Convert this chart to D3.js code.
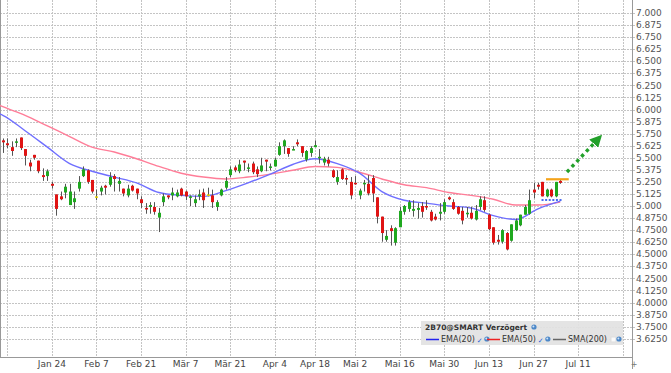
<!DOCTYPE html>
<html>
<head>
<meta charset="utf-8">
<script src="https://cdn.jsdelivr.net/npm/d3@7"></script>
<style>
  body { margin: 0; background: #fff; }
  svg { display: block; font-family: "DejaVu Sans", Verdana, sans-serif; }
</style>
</head>
<body>
<div id="chart-area"></div>
<script>
// trading-day index 0 = Jan 7 (2022)
const open  = [5.68,5.65,5.61,5.66,5.71,5.59,5.45,5.53,5.47,5.32, 5.31,5.23,5.12,5.10,5.14,5.01,5.04,5.18,5.31,5.37,
               5.27,5.10,5.15,5.21,5.22,5.31,5.23,5.18,5.11,5.21, 5.18,5.07,4.98,4.99,4.99,4.88,5.04,5.11,5.11,5.10,
               5.18,5.15,5.09,5.03,5.10,5.14,5.12,5.11,4.99,5.11, 5.19,5.32,5.40,5.36,5.47,5.39,5.44,5.38,5.36,5.48,
               5.40,5.41,5.53,5.62,5.60,5.58,5.66,5.62,5.48,5.55, 5.61,5.50,5.45,5.48,5.37,5.25,5.38,5.29,5.25,5.24,
               5.11,5.23,5.23,5.29,5.09,4.89,4.65,4.77,4.62,4.78, 4.94,4.97,4.95,4.96,5.00,5.00,4.94,4.89,4.92,4.94,
               5.09,5.04,4.99,4.95,4.92,4.93,4.86,4.99,5.06,4.91, 4.78,4.65,4.63,4.72,4.64,4.75,4.80,4.91,4.92,5.17,
               5.22,5.25,5.10,5.17,5.10,5.26]
const high  = [5.70,5.70,5.67,5.70,5.71,5.59,5.48,5.53,5.47,5.39, 5.38,5.25,5.12,5.15,5.23,5.23,5.15,5.31,5.41,5.38,
               5.27,5.17,5.21,5.22,5.35,5.33,5.30,5.18,5.22,5.22, 5.18,5.10,5.03,5.04,5.04,4.98,5.13,5.11,5.19,5.17,
               5.19,5.16,5.11,5.11,5.17,5.18,5.19,5.17,5.06,5.18, 5.30,5.41,5.42,5.48,5.47,5.44,5.46,5.41,5.50,5.48,
               5.44,5.50,5.66,5.69,5.60,5.62,5.69,5.62,5.58,5.62, 5.68,5.59,5.51,5.51,5.38,5.37,5.39,5.32,5.30,5.31,
               5.18,5.27,5.32,5.32,5.09,4.89,4.75,4.80,4.78,4.99, 5.01,5.06,5.06,5.03,5.04,5.06,4.96,4.92,5.03,5.07,
               5.10,5.07,5.00,4.99,4.99,4.99,5.01,5.10,5.10,4.92, 4.78,4.70,4.76,4.73,4.81,4.87,4.91,5.01,5.17,5.24,
               5.24,5.25,5.18,5.18,5.25,5.27]
const low   = [5.55,5.60,5.52,5.61,5.58,5.42,5.36,5.48,5.34,5.26, 5.26,5.18,4.90,5.06,5.08,5.01,4.97,5.15,5.30,5.23,
               5.13,5.06,5.11,5.12,5.20,5.15,5.15,5.10,5.09,5.15, 5.07,4.98,4.92,4.92,4.91,4.73,5.00,5.07,5.06,5.09,
               5.10,5.06,5.00,4.99,5.06,4.98,5.10,4.98,4.95,5.10, 5.17,5.30,5.35,5.34,5.37,5.35,5.33,5.30,5.35,5.36,
               5.37,5.41,5.52,5.54,5.51,5.58,5.62,5.51,5.46,5.51, 5.61,5.44,5.42,5.41,5.29,5.22,5.27,5.22,5.07,5.22,
               5.07,5.15,5.11,5.04,4.82,4.63,4.63,4.59,4.59,4.78, 4.91,4.94,4.89,4.87,4.88,4.96,4.84,4.85,4.85,4.92,
               5.06,4.96,4.91,4.81,4.88,4.86,4.85,4.96,4.94,4.75, 4.60,4.60,4.61,4.54,4.63,4.74,4.79,4.91,4.91,5.08,
               5.17,5.10,5.09,5.09,5.09,5.23]
const close = [5.66,5.63,5.57,5.67,5.60,5.52,5.41,5.50,5.36,5.30, 5.36,5.21,4.97,5.07,5.20,5.15,5.08,5.25,5.38,5.25,
               5.15,5.10,5.19,5.19,5.30,5.28,5.26,5.13,5.18,5.16, 5.13,5.03,4.97,5.01,4.94,4.93,5.10,5.09,5.14,5.14,
               5.11,5.10,5.10,5.07,5.12,5.06,5.12,5.04,5.04,5.17, 5.26,5.38,5.37,5.43,5.45,5.40,5.35,5.33,5.42,5.46,
               5.41,5.48,5.62,5.68,5.54,5.59,5.64,5.55,5.57,5.60, 5.63,5.51,5.49,5.44,5.30,5.30,5.28,5.28,5.11,5.23,
               5.16,5.24,5.13,5.13,4.89,4.72,4.69,4.74,4.77,4.95, 5.00,5.04,4.97,4.98,4.94,4.99,4.85,4.86,4.94,5.04,
               5.07,4.97,4.92,4.85,4.93,4.87,4.95,5.07,4.96,4.76, 4.62,4.63,4.75,4.55,4.81,4.85,4.91,4.99,5.06,5.14,
               5.20,5.10,5.17,5.10,5.25,5.24]

// moving averages every 5 trading days
const emaIndex = [-1,0,5,10,15,20,25,30,35,40,45,50,55,60,65,70,75,80,85,90,95,100,105,110,115,120,125]
const ema20 = [5.96,5.94,5.78,5.61,5.44,5.36,5.30,5.24,5.14,5.11,5.10,5.16,5.24,5.33,5.43,5.49,5.44,5.34,5.15,5.06,
               5.03,5.00,4.98,4.90,4.86,4.97,5.05]
const ema50 = [6.05,6.03,5.94,5.83,5.72,5.61,5.56,5.49,5.41,5.34,5.30,5.28,5.30,5.33,5.37,5.41,5.40,5.35,5.28,5.22,
               5.19,5.14,5.11,5.07,5.01,5.01,5.04]

const xTickIndex  = [1, 11, 21, 31, 41, 51, 61, 70, 79, 89, 99, 109, 119, 129, 139]
const xTickLabels = ["", "Jan 24", "Feb 7", "Feb 21", "Mär 7", "Mär 21", "Apr 4", "Apr 18",
                     "Mai 2", "Mai 16", "Mai 30", "Jun 13", "Jun 27", "Jul 11", ""]
const yTickLabels = ["7.000","6.875","6.750","6.625","6.500","6.375","6.250","6.125","6.000","5.875",
                     "5.750","5.625","5.500","5.375","5.250","5.125","5.000","4.8750","4.7500","4.6250",
                     "4.5000","4.3750","4.2500","4.1250","4.0000","3.8750","3.7500","3.6250"]

// drawn annotations, in [trading-day index, price]
const resistance = [[121.8, 5.277], [126.9, 5.277]]
const support = [[120.8, 5.062], [125.3, 5.062]]
const trendArrow = [[126.5, 5.352], [134.1, 5.725]]

const W = 671, H = 373
const PLOT = { LEFT: 0, RIGHT: 632, TOP: 0, BOTTOM: 357 }

const svg = d3.select("#chart-area").append("svg")
  .attr("width", W)
  .attr("height", H)

svg.append("rect").attr("width", W).attr("height", H).attr("fill", "#fff")

const x = d3.scaleLinear().domain([0, 139]).range([2.8, 622.7])
const y = d3.scaleLinear().domain([3.625, 7]).range([338.7, 13])

svg.append("clipPath").attr("id", "plot-clip")
  .append("rect")
  .attr("x", PLOT.LEFT).attr("y", PLOT.TOP)
  .attr("width", PLOT.RIGHT - PLOT.LEFT).attr("height", PLOT.BOTTOM - PLOT.TOP)

// grid
const yTickValues = yTickLabels.map(Number)
svg.append("g")
  .selectAll("line")
  .data(yTickValues)
  .enter().append("line")
    .attr("x1", PLOT.LEFT).attr("x2", PLOT.RIGHT + 3)
    .attr("y1", d => Math.round(y(d)) + 0.5)
    .attr("y2", d => Math.round(y(d)) + 0.5)
    .attr("stroke", "#c4c4c4")
    .attr("stroke-dasharray", "2,1")

svg.append("g")
  .selectAll("line")
  .data(xTickIndex)
  .enter().append("line")
    .attr("x1", d => Math.round(x(d)) + 0.5)
    .attr("x2", d => Math.round(x(d)) + 0.5)
    .attr("y1", PLOT.TOP).attr("y2", PLOT.BOTTOM)
    .attr("stroke", "#c4c4c4")
    .attr("stroke-dasharray", "2,1")

// axes frame
svg.append("line").attr("x1", 0.5).attr("x2", 0.5).attr("y1", 0).attr("y2", PLOT.BOTTOM)
  .attr("stroke", "#999")
svg.append("line").attr("x1", 0).attr("x2", PLOT.RIGHT).attr("y1", PLOT.BOTTOM + 0.5).attr("y2", PLOT.BOTTOM + 0.5)
  .attr("stroke", "#999")
svg.append("line").attr("x1", PLOT.RIGHT + 0.5).attr("x2", PLOT.RIGHT + 0.5).attr("y1", 0).attr("y2", 369)
  .attr("stroke", "#999")

// y labels
svg.append("g")
  .selectAll("text")
  .data(yTickLabels)
  .enter().append("text")
    .attr("x", 636)
    .attr("y", d => y(Number(d)))
    .attr("dy", "0.35em")
    .attr("font-size", "9px")
    .attr("fill", "#555")
    .text(d => d)

// x labels
svg.append("g")
  .selectAll("text")
  .data(xTickIndex.map((d, i) => ({ i: d, label: xTickLabels[i] })).filter(d => d.label))
  .enter().append("text")
    .attr("x", d => x(d.i))
    .attr("y", 367)
    .attr("text-anchor", "middle")
    .attr("font-size", "9px")
    .attr("fill", "#444")
    .text(d => d.label)

svg.append("text").attr("x", 634).attr("y", 367).attr("text-anchor", "middle")
  .attr("font-size", "8px").attr("fill", "#777").text("+")

const plot = svg.append("g").attr("clip-path", "url(#plot-clip)")

// moving averages
const line = d3.line()
  .x(d => x(d[0]))
  .y(d => y(d[1]))
  .curve(d3.curveMonotoneX)

plot.append("path")
  .datum(emaIndex.map((d, i) => [d, ema50[i]]))
  .attr("d", line)
  .attr("fill", "none")
  .attr("stroke", "#ff7d98")
  .attr("stroke-width", 1.4)

plot.append("path")
  .datum(emaIndex.map((d, i) => [d, ema20[i]]))
  .attr("d", line)
  .attr("fill", "none")
  .attr("stroke", "#6f6fff")
  .attr("stroke-width", 1.4)

// candles
const candles = open.map((o, i) => ({ i: i, o: o, h: high[i], l: low[i], c: close[i] }))
const candleColor = d => d.c > d.o ? "#1fa81f" : d.c < d.o ? "#e01414" : "#e6d400"

const cg = plot.append("g")
  .selectAll("g")
  .data(candles)
  .enter().append("g")

cg.append("line")
  .attr("x1", d => Math.round(x(d.i)) + 0.5)
  .attr("x2", d => Math.round(x(d.i)) + 0.5)
  .attr("y1", d => y(d.h))
  .attr("y2", d => y(d.l))
  .attr("stroke", "#555")

cg.append("rect")
  .attr("x", d => Math.round(x(d.i)) - 1)
  .attr("y", d => y(Math.max(d.o, d.c)))
  .attr("width", 3)
  .attr("height", d => Math.max(1.5, Math.abs(y(d.o) - y(d.c))))
  .attr("fill", candleColor)

// annotations
plot.append("line")
  .attr("x1", x(resistance[0][0])).attr("y1", y(resistance[0][1]))
  .attr("x2", x(resistance[1][0])).attr("y2", y(resistance[1][1]))
  .attr("stroke", "#f5a31a")
  .attr("stroke-width", 2.2)

plot.append("line")
  .attr("x1", x(support[0][0])).attr("y1", y(support[0][1]))
  .attr("x2", x(support[1][0])).attr("y2", y(support[1][1]))
  .attr("stroke", "#4a6cf0")
  .attr("stroke-width", 2)
  .attr("stroke-dasharray", "2,1.6")

svg.append("defs").append("marker")
  .attr("id", "arrow-head")
  .attr("viewBox", "0 0 10 10")
  .attr("refX", 2).attr("refY", 5)
  .attr("markerWidth", 3.6).attr("markerHeight", 3.6)
  .attr("orient", "auto")
  .append("path")
    .attr("d", "M0,0L10,5L0,10Z")
    .attr("fill", "#22a02a")

const ax0 = x(trendArrow[0][0]), ay0 = y(trendArrow[0][1])
const ax1 = x(trendArrow[1][0]), ay1 = y(trendArrow[1][1])
const alen = Math.hypot(ax1 - ax0, ay1 - ay0)
plot.append("line")
  .attr("x1", ax0).attr("y1", ay0)
  .attr("x2", ax1 - (ax1 - ax0) / alen * 8).attr("y2", ay1 - (ay1 - ay0) / alen * 8)
  .attr("stroke", "#22a02a")
  .attr("stroke-width", 3.4)
  .attr("stroke-dasharray", "3.4,3.6")
  .attr("marker-end", "url(#arrow-head)")

// legend
const legend = svg.append("g").attr("transform", "translate(421, 321)")
legend.append("rect")
  .attr("width", 202).attr("height", 24)
  .attr("fill", "#e2e2e2")
  .attr("opacity", 0.92)

legend.append("text")
  .attr("x", 4).attr("y", 9)
  .attr("font-size", "7.5px")
  .attr("font-weight", "bold")
  .attr("fill", "#333")
  .text("2B70@SMART Verzögert")

const icon = (gx, gy) => {
  legend.append("circle").attr("cx", gx).attr("cy", gy).attr("r", 2.6).attr("fill", "#4d88c8")
  legend.append("circle").attr("cx", gx - 0.6).attr("cy", gy - 0.6).attr("r", 1).attr("fill", "#cfe3f7")
}
icon(113, 6)

const legendItems = [
  { name: "EMA(20)", color: "#2222ee", x: 5, check: true },
  { name: "EMA(50)", color: "#ee2222", x: 66, check: true },
  { name: "SMA(200)", color: "#666", x: 132, check: false }
]
legendItems.forEach(d => {
  legend.append("line")
    .attr("x1", d.x).attr("x2", d.x + 13)
    .attr("y1", 18.5).attr("y2", 18.5)
    .attr("stroke", d.color).attr("stroke-width", 1.5)
  const t = legend.append("text")
    .attr("x", d.x + 15).attr("y", 21)
    .attr("font-size", "8px")
    .attr("fill", "#333")
    .text(d.name)
  const tx = d.x + 15 + t.node().getComputedTextLength()
  if (d.check) {
    legend.append("text").attr("x", tx + 2).attr("y", 21.5)
      .attr("font-size", "7px").attr("fill", "#1f5fd8").text("✓")
  } else {
    legend.append("rect").attr("x", tx + 4).attr("y", 16).attr("width", 5).attr("height", 5)
      .attr("fill", "#fafafa").attr("stroke", "#ddd")
  }
  icon(tx + 12, 18)
})
</script>
</body>
</html>
